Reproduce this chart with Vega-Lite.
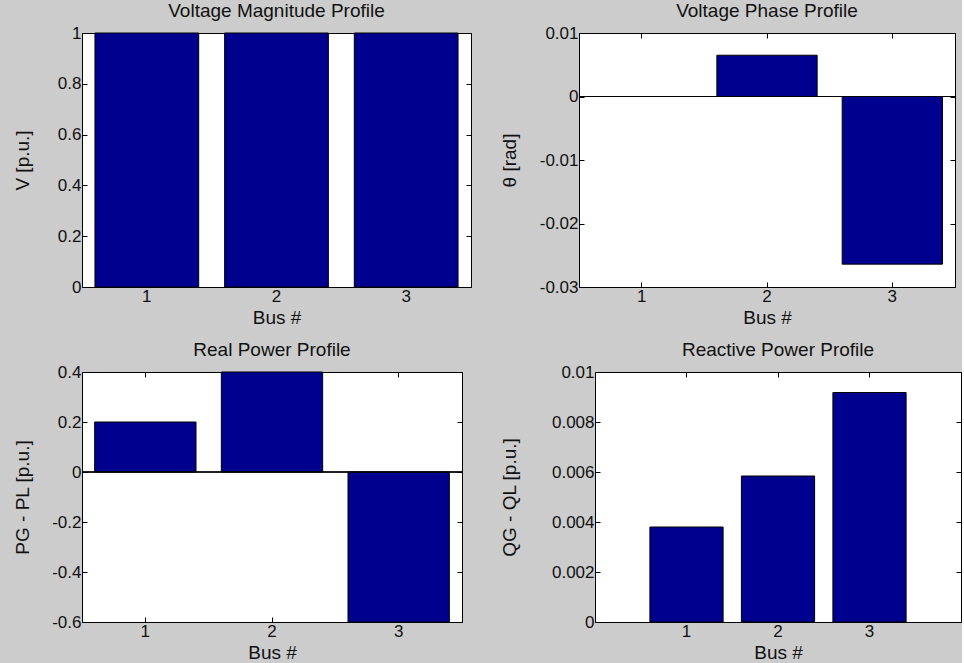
{
  "$schema": "https://vega.github.io/schema/vega-lite/v6.json",
  "background": "#cccccc",
  "padding": {"left": 12, "top": 1, "right": 0, "bottom": 0},
  "config": {
    "font": "Liberation Sans",
    "view": {"fill": "white", "stroke": "black", "strokeWidth": 1},
    "axis": {
      "labelFont": "Liberation Sans", "labelFontSize": 17, "labelColor": "#111111",
      "titleFont": "Liberation Sans", "titleFontSize": 19, "titleFontWeight": "normal", "titleColor": "#111111",
      "domain": false, "grid": false, "tickColor": "black", "tickSize": -5, "labelPadding": 6, "titlePadding": 14,
      "minExtent": 0
    },
    "axisX": {"titlePadding": 4},
    "title": {"font": "Liberation Sans", "fontSize": 19, "fontWeight": "normal", "color": "#111111", "offset": 3},
    "bar": {"color": "#00008F", "stroke": "black", "strokeWidth": 1}
  },
  "spacing": 12,
  "vconcat": [
    {
      "spacing": 27,
      "hconcat": [
        {
          "width": 389, "height": 254,
          "title": "Voltage Magnitude Profile",
          "data": {"values": [{"bus": 1, "v": 1.0}, {"bus": 2, "v": 1.0}, {"bus": 3, "v": 1.0}]},
          "layer": [
            {"mark": "bar",
             "encoding": {
               "x": {"field": "bus", "type": "ordinal", "scale": {"paddingInner": 0.2, "paddingOuter": 0.1}, "axis": {"title": "Bus #", "labelAngle": 0}},
               "y": {"field": "v", "type": "quantitative", "scale": {"domain": [0, 1], "nice": false}, "axis": {"title": "V [p.u.]", "titlePadding": 25, "values": [0, 0.2, 0.4, 0.6, 0.8, 1], "labelExpr": "'' + datum.value"}}
             }},
            {"mark": {"type": "bar", "opacity": 0},
             "encoding": {
               "x": {"field": "bus", "type": "ordinal", "axis": {"orient": "top", "labels": false, "title": null}},
               "y": {"field": "v", "type": "quantitative", "axis": {"orient": "right", "labels": false, "title": null, "values": [0, 0.2, 0.4, 0.6, 0.8, 1]}}
             }}
          ],
          "resolve": {"axis": {"x": "independent", "y": "independent"}}
        },
        {
          "width": 376, "height": 254,
          "title": "Voltage Phase Profile",
          "data": {"values": [{"bus": 1, "theta": 0}, {"bus": 2, "theta": 0.0065}, {"bus": 3, "theta": -0.0264}]},
          "layer": [
            {"mark": "bar",
             "encoding": {
               "x": {"field": "bus", "type": "ordinal", "scale": {"paddingInner": 0.2, "paddingOuter": 0.1}, "axis": {"title": "Bus #", "labelAngle": 0}},
               "y": {"field": "theta", "type": "quantitative", "scale": {"domain": [-0.03, 0.01], "nice": false, "zero": false}, "axis": {"title": "θ [rad]", "titlePadding": 20, "values": [-0.03, -0.02, -0.01, 0, 0.01], "labelExpr": "'' + datum.value"}}
             }},
            {"mark": {"type": "rule", "color": "black", "strokeWidth": 1}, "encoding": {"y": {"datum": 0, "axis": null}}},
            {"mark": {"type": "bar", "opacity": 0},
             "encoding": {
               "x": {"field": "bus", "type": "ordinal", "axis": {"orient": "top", "labels": false, "title": null}},
               "y": {"field": "theta", "type": "quantitative", "axis": {"orient": "right", "labels": false, "title": null, "values": [-0.03, -0.02, -0.01, 0, 0.01]}}
             }}
          ],
          "resolve": {"axis": {"x": "independent", "y": "independent"}}
        }
      ]
    },
    {
      "spacing": 36,
      "hconcat": [
        {
          "width": 380, "height": 250,
          "title": "Real Power Profile",
          "data": {"values": [{"bus": 1, "p": 0.2}, {"bus": 2, "p": 0.4}, {"bus": 3, "p": -0.6}]},
          "layer": [
            {"mark": "bar",
             "encoding": {
               "x": {"field": "bus", "type": "ordinal", "scale": {"paddingInner": 0.2, "paddingOuter": 0.1}, "axis": {"title": "Bus #", "labelAngle": 0}},
               "y": {"field": "p", "type": "quantitative", "scale": {"domain": [-0.6, 0.4], "nice": false, "zero": false}, "axis": {"title": "PG - PL [p.u.]", "titlePadding": 19, "values": [-0.6, -0.4, -0.2, 0, 0.2, 0.4], "labelExpr": "'' + datum.value"}}
             }},
            {"mark": {"type": "rule", "color": "black", "strokeWidth": 1}, "encoding": {"y": {"datum": 0, "axis": null}}},
            {"mark": {"type": "bar", "opacity": 0},
             "encoding": {
               "x": {"field": "bus", "type": "ordinal", "axis": {"orient": "top", "labels": false, "title": null}},
               "y": {"field": "p", "type": "quantitative", "axis": {"orient": "right", "labels": false, "title": null, "values": [-0.6, -0.4, -0.2, 0, 0.2, 0.4]}}
             }}
          ],
          "resolve": {"axis": {"x": "independent", "y": "independent"}}
        },
        {
          "width": 366, "height": 250,
          "title": "Reactive Power Profile",
          "data": {"values": [{"bus": 1, "q": 0.0038}, {"bus": 2, "q": 0.00584}, {"bus": 3, "q": 0.00918}]},
          "layer": [
            {"mark": "bar",
             "encoding": {
               "x": {"field": "bus", "type": "ordinal", "scale": {"paddingInner": 0.2, "paddingOuter": 0.6}, "axis": {"title": "Bus #", "labelAngle": 0}},
               "y": {"field": "q", "type": "quantitative", "scale": {"domain": [0, 0.01], "nice": false}, "axis": {"title": "QG - QL [p.u.]", "titlePadding": 32, "values": [0, 0.002, 0.004, 0.006, 0.008, 0.01], "labelExpr": "'' + datum.value"}}
             }},
            {"mark": {"type": "bar", "opacity": 0},
             "encoding": {
               "x": {"field": "bus", "type": "ordinal", "axis": {"orient": "top", "labels": false, "title": null}},
               "y": {"field": "q", "type": "quantitative", "axis": {"orient": "right", "labels": false, "title": null, "values": [0, 0.002, 0.004, 0.006, 0.008, 0.01]}}
             }}
          ],
          "resolve": {"axis": {"x": "independent", "y": "independent"}}
        }
      ]
    }
  ]
}
